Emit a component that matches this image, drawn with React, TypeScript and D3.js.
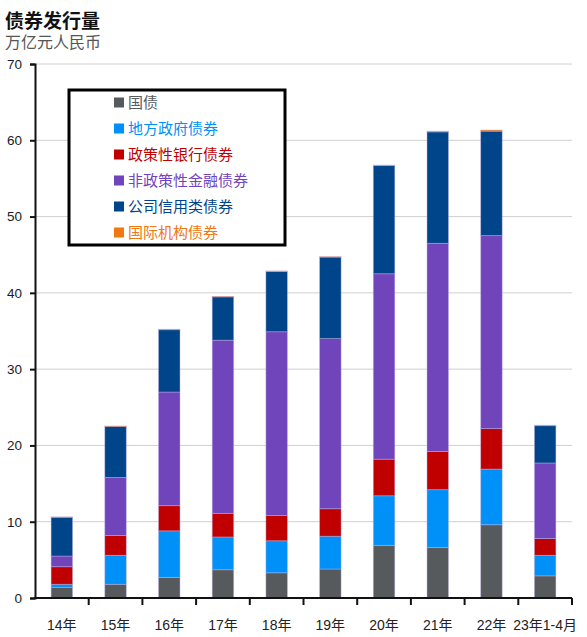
import { useRef, useEffect } from "react";
import * as d3 from "d3";

const categories = ["14年", "15年", "16年", "17年", "18年", "19年", "20年", "21年", "22年", "23年1-4月"];
const seriesKeys = ["国债", "地方政府债券", "政策性银行债券", "非政策性金融债券", "公司信用类债券", "国际机构债券"];
const seriesColors = ["#575a5c", "#0091f8", "#c00000", "#7044ba", "#00448a", "#f07810"];

// 万亿元人民币
const govBonds = [1.4, 1.8, 2.7, 3.7, 3.3, 3.8, 6.9, 6.6, 9.6, 2.9];
const localBonds = [0.4, 3.8, 6.1, 4.3, 4.2, 4.3, 6.5, 7.6, 7.3, 2.7];
const policyBank = [2.3, 2.6, 3.3, 3.1, 3.3, 3.6, 4.8, 5.0, 5.3, 2.2];
const otherFinancial = [1.4, 7.6, 14.9, 22.7, 24.1, 22.3, 24.3, 27.3, 25.3, 9.9];
const corporate = [5.1, 6.7, 8.2, 5.7, 7.9, 10.7, 14.2, 14.6, 13.7, 4.9];
const international = [0.03, 0.05, 0.03, 0.03, 0.08, 0.05, 0.05, 0.1, 0.15, 0.05];

const yTicks = [0, 10, 20, 30, 40, 50, 60, 70];

const W = 587;
const H = 637;
const FONT = "'Liberation Sans', Arial, 'Noto Sans CJK SC', sans-serif";

export default function App() {
  const svgRef = useRef<SVGSVGElement>(null);

  useEffect(() => {
    if (!svgRef.current) return;
    const svg = d3.select(svgRef.current);
    svg.selectAll("*").remove();

    const margin = { top: 64, right: 15, bottom: 39, left: 35 };
    const x0 = margin.left;
    const x1 = W - margin.right;
    const y0 = H - margin.bottom;
    const y1 = margin.top;

    const table = categories.map((c, i) => ({
      cat: c,
      [seriesKeys[0]]: govBonds[i],
      [seriesKeys[1]]: localBonds[i],
      [seriesKeys[2]]: policyBank[i],
      [seriesKeys[3]]: otherFinancial[i],
      [seriesKeys[4]]: corporate[i],
      [seriesKeys[5]]: international[i],
    }));

    const xScale = d3.scaleBand<string>().domain(categories).range([x0, x1]).padding(0);
    const yScale = d3.scaleLinear().domain([0, 70]).range([y0, y1]);
    const color = d3.scaleOrdinal<string, string>().domain(seriesKeys).range(seriesColors);

    // Title
    svg.append("text").attr("x", 5).attr("y", 28).attr("font-size", 19).attr("font-weight", "bold")
      .attr("fill", "#111").attr("font-family", FONT).text("债券发行量");
    svg.append("text").attr("x", 5).attr("y", 48).attr("font-size", 16)
      .attr("fill", "#555").attr("font-family", FONT).text("万亿元人民币");

    // Grid
    svg.append("g").selectAll("line").data(yTicks.filter(t => t > 0)).enter().append("line")
      .attr("x1", x0).attr("x2", x1).attr("y1", d => yScale(d)).attr("y2", d => yScale(d))
      .attr("stroke", "#d0d0d0").attr("stroke-width", 1);

    // Y axis
    const yAxis = svg.append("g").attr("transform", `translate(${x0},0)`)
      .call(d3.axisLeft(yScale).tickValues(yTicks).tickSize(5).tickPadding(8).tickFormat(d3.format("d")));
    yAxis.select(".domain").attr("stroke", "#111").attr("stroke-width", 2);
    yAxis.selectAll("line").attr("stroke", "#111").attr("stroke-width", 2);
    yAxis.selectAll("text").attr("fill", "#1a1a2a").attr("font-size", 13.5).attr("font-family", FONT);

    // Bars
    const stacked = d3.stack<any>().keys(seriesKeys)(table);
    const barW = xScale.bandwidth() * 0.4;
    const bars = svg.append("g");
    stacked.forEach(layer => {
      bars.selectAll(null).data(layer).enter().append("rect")
        .attr("x", d => (xScale(d.data.cat) ?? 0) + (xScale.bandwidth() - barW) / 2)
        .attr("width", barW)
        .attr("y", d => yScale(d[1]))
        .attr("height", d => Math.max(0.6, yScale(d[0]) - yScale(d[1])))
        .attr("fill", color(layer.key))
        .attr("stroke", "rgba(190,175,225,0.55)")
        .attr("stroke-width", 0.8);
    });

    // X axis
    svg.append("line").attr("x1", x0 - 1).attr("x2", x1).attr("y1", y0).attr("y2", y0)
      .attr("stroke", "#111").attr("stroke-width", 2);
    const boundaries = categories.map(c => (xScale(c) ?? 0) + xScale.bandwidth());
    svg.append("g").selectAll("line").data(boundaries).enter().append("line")
      .attr("x1", d => d).attr("x2", d => d).attr("y1", y0).attr("y2", y0 + 7)
      .attr("stroke", "#111").attr("stroke-width", 2);
    svg.append("g").selectAll("text").data(categories).enter().append("text")
      .attr("x", d => (xScale(d) ?? 0) + xScale.bandwidth() / 2)
      .attr("y", 630)
      .attr("text-anchor", "middle")
      .attr("font-size", 14).attr("fill", "#222").attr("font-family", FONT)
      .text(d => d);

    // Legend
    const lg = svg.append("g");
    lg.append("rect").attr("x", 69).attr("y", 90).attr("width", 216).attr("height", 155)
      .attr("fill", "#fff").attr("stroke", "#000").attr("stroke-width", 3);
    seriesKeys.forEach((k, i) => {
      const cy = 102.5 + i * 26;
      lg.append("rect").attr("x", 114).attr("y", cy - 5).attr("width", 10).attr("height", 10).attr("fill", color(k));
      lg.append("text").attr("x", 128).attr("y", cy + 5.5).attr("font-size", 15)
        .attr("fill", color(k)).attr("font-family", FONT).text(k);
    });
  }, []);

  return (
    <div style={{ position: "absolute", left: 0, top: 0 }}>
      <svg ref={svgRef} width={W} height={H} style={{ display: "block", background: "#fff" }} />
    </div>
  );
}
